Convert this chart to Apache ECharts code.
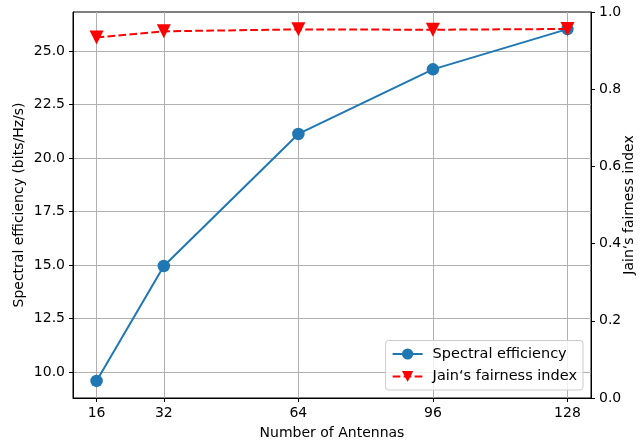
<!DOCTYPE html>
<html>
<head>
<meta charset="utf-8">
<script src="https://cdn.jsdelivr.net/npm/echarts@6/dist/echarts.min.js"></script>
<style>
html,body{margin:0;padding:0;background:#fff;}
#chart{width:644px;height:440px;}
</style>
</head>
<body>
<div id="chart"></div>
<script>
const antennas = [16, 32, 64, 96, 128];
const spectralEfficiency = [9.58, 14.95, 21.12, 24.14, 26.02];
const fairnessIndex = [0.934, 0.950, 0.955, 0.954, 0.956];
const xTicks = [16, 32, 64, 96, 128];
const leftTicks = [10, 12.5, 15, 17.5, 20, 22.5, 25];
const seriesNames = ['Spectral efficiency', 'Jain\u2018s fairness index'];

const FONT = 'DejaVu Sans';
const chart = echarts.init(document.getElementById('chart'), null, {renderer: 'canvas'});
const gridLine = {show: true, lineStyle: {color: '#b0b0b0', width: 1}};
const tick = {show: true, inside: false, length: 4, lineStyle: {color: '#000', width: 1}};
const label = {color: '#000', fontFamily: FONT, fontSize: 14};

chart.setOption({
  animation: false,
  backgroundColor: '#fff',
  textStyle: {fontFamily: FONT},
  grid: {left: 73, right: 53, top: 12, bottom: 42, show: true, borderColor: '#000', borderWidth: 1,
         containLabel: false, outerBoundsMode: 'none'},
  legend: {
    orient: 'vertical', right: 61, bottom: 50,
    itemWidth: 30, itemHeight: 14, itemGap: 7.5,
    padding: [6, 6, 6, 6],
    backgroundColor: 'rgba(255,255,255,0.8)',
    borderColor: '#cccccc', borderWidth: 1, borderRadius: 3,
    textStyle: {color: '#000', fontFamily: FONT, fontSize: 14.5, padding: [0, 0, 0, 5]},
    data: seriesNames
  },
  xAxis: {
    type: 'value', min: 10.4, max: 133.6,
    name: 'Number of Antennas', nameLocation: 'middle', nameGap: 28, nameMoveOverlap: false,
    nameTextStyle: {color: '#000', fontFamily: FONT, fontSize: 14},
    axisLine: {show: true, lineStyle: {color: '#000', width: 1}},
    axisTick: Object.assign({customValues: xTicks}, tick),
    axisLabel: Object.assign({customValues: xTicks, margin: 8}, label),
    splitLine: gridLine
  },
  yAxis: [
    {
      type: 'value', min: 8.78, max: 26.82, position: 'left',
      name: 'Spectral efficiency (bits/Hz/s)', nameLocation: 'middle', nameGap: 47, nameMoveOverlap: false,
      nameTextStyle: {color: '#000', fontFamily: FONT, fontSize: 14},
      axisLine: {show: true, lineStyle: {color: '#000', width: 1}},
      axisTick: Object.assign({customValues: leftTicks}, tick),
      axisLabel: Object.assign({customValues: leftTicks, margin: 8, formatter: v => v.toFixed(1)}, label),
      splitLine: gridLine
    },
    {
      type: 'value', min: 0, max: 1, interval: 0.2, position: 'right',
      name: 'Jain\u2018s fairness index', nameLocation: 'middle', nameGap: 31, nameRotate: 90, nameMoveOverlap: false,
      nameTextStyle: {color: '#000', fontFamily: FONT, fontSize: 14},
      axisLine: {show: true, lineStyle: {color: '#000', width: 1}},
      axisTick: tick,
      axisLabel: Object.assign({margin: 8, formatter: v => v.toFixed(1)}, label),
      splitLine: {show: false}
    }
  ],
  series: [
    {
      name: seriesNames[0], type: 'line', yAxisIndex: 0, z: 3,
      data: antennas.map((a, i) => [a, spectralEfficiency[i]]),
      symbol: 'circle', symbolSize: 12.5,
      lineStyle: {color: '#1f77b4', width: 2},
      itemStyle: {color: '#1f77b4'}
    },
    {
      name: seriesNames[1], type: 'line', yAxisIndex: 1, z: 4,
      data: antennas.map((a, i) => [a, fairnessIndex[i]]),
      symbol: 'triangle', symbolRotate: 180, symbolSize: 14,
      lineStyle: {color: '#ff0000', width: 2, type: [7.7, 3.3]},
      itemStyle: {color: '#ff0000'}
    }
  ]
});
</script>
</body>
</html>
